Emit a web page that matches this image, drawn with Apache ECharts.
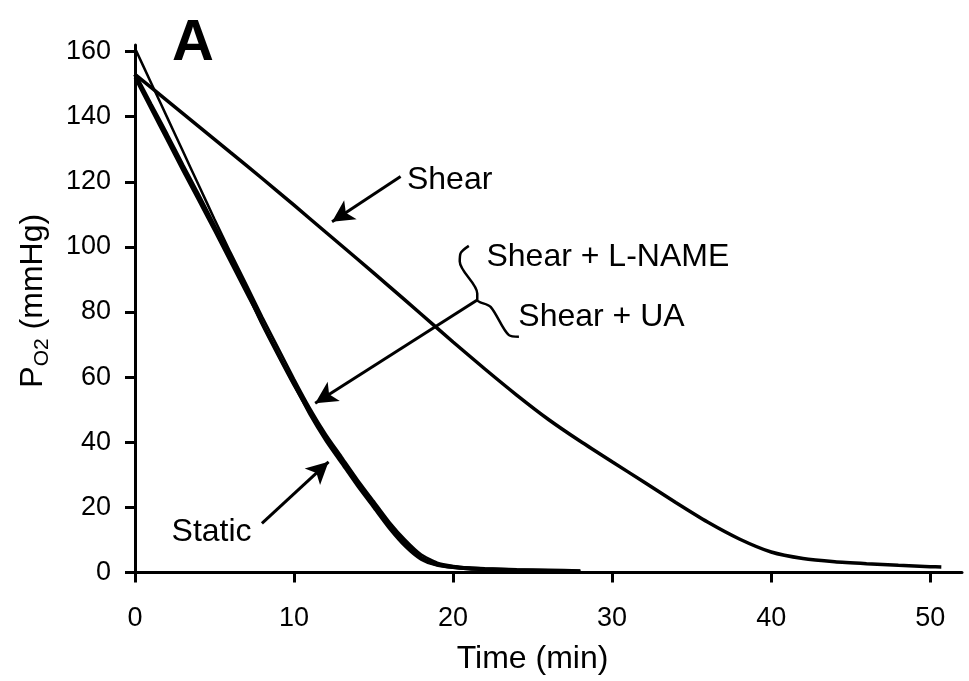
<!DOCTYPE html>
<html>
<head>
<meta charset="utf-8">
<script src="https://cdn.jsdelivr.net/npm/echarts@6/dist/echarts.min.js"></script>
<style>
  html, body { margin: 0; padding: 0; background: #fff; }
  #chart { width: 969px; height: 681px; }
</style>
</head>
<body>
<div id="chart"></div>
<script>
// x ticks and y ticks
var timeTicks = [0, 10, 20, 30, 40, 50];
var po2Ticks = [0, 20, 40, 60, 80, 100, 120, 140, 160];

// Shear curve
var shearTime = [0, 2, 4, 6, 8, 10, 12, 14, 16, 18, 20, 22, 24, 26, 28, 30, 32, 34, 36, 38, 40, 42, 44, 46, 48, 50, 50.7];
var shearPO2 = [153, 145, 137, 129, 121, 112.8, 104.5, 96.2, 87.8, 79.3, 70.8, 62.5, 54.5, 47, 40.3, 34, 27.8, 21.5, 15.5, 10.3, 6.3, 4.3, 3.3, 2.7, 2.2, 1.8, 1.7];

// the three steep curves share the time points
var bundleTime = [0, 1, 2, 3, 4, 5, 6, 7, 8, 9, 10, 11, 12, 13, 14, 15, 16, 17, 18, 19, 20, 21, 22, 24, 26, 28];
var staticPO2 = [153, 143.7, 134.5, 125, 115.8, 106.3, 96.8, 87, 76.5, 67, 57.8, 49.3, 41.5, 34.5, 27.5, 21, 14.5, 9, 4.5, 2.5, 1.7, 1.3, 1.1, 0.8, 0.6, 0.4];
var lnamePO2 = [161, 150.5, 140, 129.5, 119, 108.5, 98.3, 88.5, 78.5, 69, 59.5, 50.5, 42.5, 35.5, 28.5, 22, 15.5, 10, 5.5, 3, 2, 1.5, 1.2, 0.9, 0.7, 0.5];
var uaPO2 = [152, 142.5, 133, 123.5, 114.3, 105, 95.5, 86, 76.5, 67, 57.8, 48.5, 40.5, 33.5, 26.5, 20, 13.5, 8, 4, 2.2, 1.5, 1.1, 0.9, 0.6, 0.4, 0.3];

// annotations (data units)
var braceTime = [20.99, 20.47, 20.42, 21.52, 21.52, 22.36, 23.51, 24.14];
var bracePO2 = [100.3, 98.0, 95.5, 85.7, 83.7, 81.6, 72.9, 72.4];
var arrows = [
  [[16.7, 121.6], [12.39, 107.7]],
  [[21.52, 83.7], [11.33, 52.0]],
  [[7.98, 15.1], [12.17, 34.0]]
];
var labels = [
  ['Shear', 17.1, 120.5],
  ['Shear + L-NAME', 22.1, 96.8],
  ['Shear + UA', 24.1, 78.5],
  ['Static', 2.3, 12.4]
];

function pairs(xs, ys) {
  return xs.map(function (x, i) { return [x, ys[i]]; });
}

var FONT = "'Liberation Sans', Arial, sans-serif";
var chart = echarts.init(document.getElementById('chart'));

function curve(name, xs, ys, w) {
  return {
    name: name,
    type: 'line',
    data: pairs(xs, ys),
    showSymbol: false,
    smooth: 0.2,
    lineStyle: { color: '#000', width: w },
    itemStyle: { color: '#000' },
    z: 3
  };
}

chart.setOption({
  animation: false,
  backgroundColor: '#fff',
  title: {
    text: 'A',
    left: 167,
    top: 10,
    textStyle: { fontFamily: FONT, fontSize: 58, fontWeight: 'bold', color: '#000' }
  },
  grid: { left: 135, right: 7, top: 45, bottom: 108.5 },
  xAxis: {
    type: 'value',
    min: 0,
    max: 52,
    name: 'Time (min)',
    nameLocation: 'middle',
    nameGap: 71,
    nameTextStyle: { fontFamily: FONT, fontSize: 32, color: '#000', padding: [0, 32, 0, 0] },
    axisLine: { lineStyle: { color: '#000', width: 3 } },
    axisTick: { show: true, length: 10, lineStyle: { color: '#000', width: 3 }, customValues: timeTicks },
    axisLabel: { fontFamily: FONT, fontSize: 27, color: '#000', margin: 33, customValues: timeTicks },
    splitLine: { show: false }
  },
  yAxis: {
    type: 'value',
    min: 0,
    max: 162,
    name: '{p|P}{s|O2}{p| (mmHg)}',
    nameLocation: 'middle',
    nameRotate: 90,
    nameGap: 82,
    nameTextStyle: {
      padding: [0, 0, 0, 16],
      rich: {
        p: { fontFamily: FONT, fontSize: 32, color: '#000', lineHeight: 40 },
        s: { fontFamily: FONT, fontSize: 21, color: '#000', lineHeight: 20, verticalAlign: 'bottom' }
      }
    },
    axisLine: { show: true, lineStyle: { color: '#000', width: 3 } },
    axisTick: { show: true, length: 10, lineStyle: { color: '#000', width: 3 }, customValues: po2Ticks },
    axisLabel: { fontFamily: FONT, fontSize: 27, color: '#000', margin: 24, customValues: po2Ticks },
    splitLine: { show: false }
  },
  series: [
    curve('Shear', shearTime, shearPO2, 3.5),
    curve('Shear + L-NAME', bundleTime, lnamePO2, 2.5),
    curve('Shear + UA', bundleTime, uaPO2, 3),
    curve('Static', bundleTime, staticPO2, 4),
    {
      name: 'notes',
      type: 'line',
      data: pairs(braceTime, bracePO2),
      showSymbol: false,
      smooth: 0.3,
      silent: true,
      lineStyle: { color: '#000', width: 2.5 },
      markLine: {
        silent: true,
        symbol: ['none', 'arrow'],
        symbolSize: [17, 22],
        label: { show: false },
        lineStyle: { color: '#000', width: 3, type: 'solid' },
        data: arrows.map(function (a) {
          return [{ coord: a[0] }, { coord: a[1] }];
        })
      },
      markPoint: {
        silent: true,
        symbol: 'circle',
        symbolSize: 0,
        label: {
          show: true,
          position: 'right',
          distance: 0,
          fontFamily: FONT,
          fontSize: 32,
          color: '#000'
        },
        data: labels.map(function (l) {
          return { coord: [l[1], l[2]], label: { formatter: l[0] } };
        })
      }
    }
  ]
});
</script>
</body>
</html>
